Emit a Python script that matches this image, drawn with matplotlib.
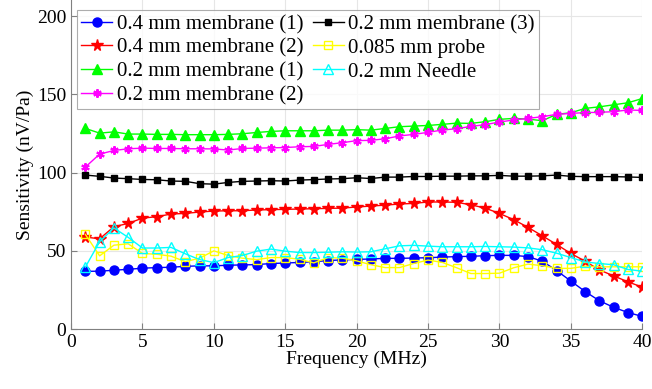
import numpy as np
import matplotlib
matplotlib.use("Agg")
import matplotlib.pyplot as plt

plt.rcParams["font.family"] = ["Liberation Serif", "DejaVu Serif"]

freq = np.arange(1, 41)

mem04_1 = [36.9, 37.0, 37.6, 38.2, 38.9, 39.3, 39.5, 40.1, 40.4, 40.4,
           40.8, 41.0, 41.2, 41.9, 42.2, 42.6, 43.0, 43.8, 44.2, 44.5,
           44.8, 45.2, 45.2, 45.4, 45.6, 46.0, 46.3, 46.5, 46.9, 47.1,
           47.1, 46.3, 43.4, 37.4, 30.7, 24.0, 18.1, 13.9, 10.6, 8.1]
mem04_2 = [58.8, 57.7, 65.4, 67.5, 70.9, 71.8, 73.5, 73.9, 74.8, 75.4,
           75.6, 75.6, 76.1, 76.3, 76.5, 76.7, 76.9, 77.1, 77.3, 78.0,
           78.6, 79.2, 79.9, 80.3, 81.2, 81.2, 81.0, 79.4, 77.3, 73.9,
           69.9, 65.0, 59.6, 54.1, 48.3, 43.4, 37.8, 34.0, 30.2, 26.8]
mem02_1 = [128.2, 125.2, 126.0, 124.6, 124.6, 124.4, 124.4, 124.2, 124.2, 124.2,
           124.4, 124.8, 125.6, 126.3, 126.7, 126.7, 126.7, 127.1, 127.1, 127.4,
           127.1, 128.2, 129.3, 129.7, 130.1, 130.8, 131.6, 131.4, 132.5, 134.0,
           134.6, 134.2, 133.1, 137.2, 138.2, 141.0, 142.0, 143.3, 144.6, 147.3]
mem02_2 = [103.5, 111.8, 114.1, 115.2, 115.6, 115.4, 115.4, 115.2, 115.2, 115.1,
           114.4, 115.4, 115.6, 115.8, 116.0, 116.5, 116.7, 118.0, 119.1, 120.4,
           120.6, 121.6, 123.4, 124.4, 125.7, 127.2, 128.0, 129.5, 130.6, 132.3,
           133.6, 134.6, 135.7, 137.2, 137.8, 138.3, 138.5, 138.9, 140.0, 139.7]
mem02_3 = [98.4, 97.6, 96.5, 96.1, 95.6, 95.4, 94.6, 94.4, 92.9, 92.6,
           93.7, 94.4, 94.6, 94.8, 94.6, 95.2, 95.5, 95.9, 96.1, 96.7,
           96.2, 97.1, 97.1, 97.5, 97.5, 97.7, 97.7, 97.9, 97.9, 98.2,
           97.7, 97.7, 97.9, 98.4, 97.6, 97.4, 97.4, 97.4, 97.2, 96.9]
probe_085 = [60.5, 46.8, 53.6, 54.5, 48.3, 47.8, 46.6, 43.1, 45.3, 50.0,
             47.0, 45.3, 44.4, 45.7, 45.7, 44.6, 42.3, 45.7, 45.3, 43.6,
             41.1, 39.3, 39.3, 41.9, 44.1, 42.6, 39.2, 35.5, 35.5, 35.7,
             39.2, 41.5, 40.5, 38.8, 38.8, 40.2, 39.8, 39.8, 39.8, 39.8]
needle_02 = [39.6, 55.8, 64.6, 58.6, 51.8, 51.8, 52.2, 48.1, 44.4, 42.5,
             45.7, 47.0, 49.8, 51.1, 49.8, 48.9, 48.9, 49.1, 49.4, 49.2,
             49.4, 51.3, 53.2, 53.5, 53.0, 52.6, 52.6, 52.6, 52.8, 52.6,
             52.4, 51.9, 50.7, 48.5, 45.7, 42.9, 41.9, 41.1, 38.1, 37.0]

fig = plt.figure(figsize=(6.52, 3.89), dpi=100)
ax = fig.add_axes([0.109, 0.154, 0.876, 0.845])

ax.plot(freq, mem04_1, color="#0000ff", marker="o", ms=6.5, lw=1,
        label="0.4 mm membrane (1)")
ax.plot(freq, mem04_2, color="#ff0000", marker="*", ms=8.5, lw=1,
        label="0.4 mm membrane (2)")
ax.plot(freq, mem02_1, color="#00ff00", marker="^", ms=7, lw=1,
        label="0.2 mm membrane (1)")
ax.plot(freq, mem02_2, color="#ff00ff", marker=(6, 2, 0), ms=6, mew=1.5, lw=1,
        label="0.2 mm membrane (2)")
ax.plot(freq, mem02_3, color="#000000", marker="s", ms=5, lw=1,
        label="0.2 mm membrane (3)")
ax.plot(freq, probe_085, color="#ffff00", marker="s", ms=5.5, mfc="none", lw=1,
        label="0.085 mm probe")
ax.plot(freq, needle_02, color="#00ffff", marker="^", ms=7, mfc="none", lw=1,
        label="0.2 mm Needle")

ax.set_xlim(0, 40)
ax.set_ylim(0, 210)
ax.set_xticks(np.arange(0, 41, 5))
ax.set_yticks(np.arange(0, 201, 50))
ax.grid(True, color="#e6e6e6", lw=0.8)
ax.set_axisbelow(True)
for side in ("top", "right"):
    ax.spines[side].set_visible(False)
for side in ("left", "bottom"):
    ax.spines[side].set_color("#808080")
ax.tick_params(direction="in", length=4, color="#808080", labelsize=14)
ax.set_xlabel("Frequency (MHz)", fontsize=14, labelpad=0)
ax.set_ylabel("Sensitivity (nV/Pa)", fontsize=14, labelpad=2)

leg = ax.legend(ncol=2, loc="upper left", bbox_to_anchor=(0.0105, 0.97),
                fontsize=15, fancybox=False, edgecolor="#999999",
                handlelength=1.5, handletextpad=0.2, columnspacing=0.45,
                labelspacing=0.2, borderpad=0.2, borderaxespad=0)
leg.get_frame().set_linewidth(0.8)

fig.savefig("out.png", dpi=100)
